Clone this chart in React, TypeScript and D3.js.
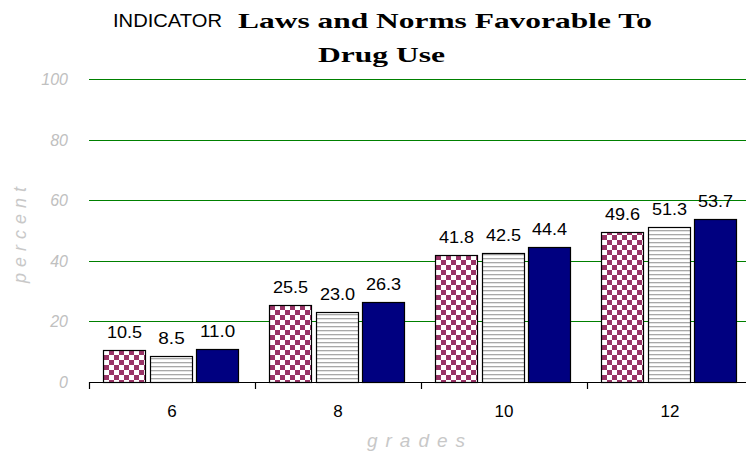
import React from "react";
import * as d3 from "d3";

const grades = ["6", "8", "10", "12"];
const seriesNames = ["s1", "s2", "s3"];
const series1 = [10.5, 25.5, 41.8, 49.6];
const series2 = [8.5, 23.0, 42.5, 51.3];
const series3 = [11.0, 26.3, 44.4, 53.7];
const yTicks = [0, 20, 40, 60, 80, 100];

const W = 746;
const H = 453;

export default function App() {
  const x0 = d3.scaleBand<string>().domain(grades).range([89, 89 + 166 * 4]);
  const x1 = d3.scaleBand<string>().domain(seriesNames).range([14, 149]).paddingInner(0.11);
  const y = d3.scaleLinear().domain([0, 100]).range([382, 79]);
  const allSeries = [series1, series2, series3];
  const fills = ["url(#checker)", "url(#stripes)", "#000080"];
  const sans = "'Liberation Sans', Arial, sans-serif";

  return (
    <svg width={W} height={H} style={{ position: "absolute", left: 0, top: 0, background: "#fff" }}>
      <defs>
        <pattern id="checker" width={10} height={10} patternUnits="userSpaceOnUse">
          <rect width={10} height={10} fill="#fff" />
          <rect x={0} y={0} width={5} height={5} fill="#993366" />
          <rect x={5} y={5} width={5} height={5} fill="#993366" />
        </pattern>
        <pattern id="stripes" width={8} height={4} patternUnits="userSpaceOnUse">
          <rect width={8} height={4} fill="#fff" />
          <rect x={0} y={2} width={8} height={1.3} fill="#a8a8a8" />
        </pattern>
      </defs>

      {/* Title */}
      <text x={113} y={27} fontFamily="'Liberation Sans Narrow', 'Liberation Sans', Arial, sans-serif" fontSize={19} textLength={109} lengthAdjust="spacingAndGlyphs" fill="#000">INDICATOR</text>
      <text x={238} y={28} fontFamily="'Liberation Serif', 'DejaVu Serif', serif" fontWeight="bold" fontSize={22} textLength={414} lengthAdjust="spacingAndGlyphs" fill="#000">Laws and Norms Favorable To</text>
      <text x={318} y={62} fontFamily="'Liberation Serif', 'DejaVu Serif', serif" fontWeight="bold" fontSize={22} textLength={127} lengthAdjust="spacingAndGlyphs" fill="#000">Drug Use</text>

      {/* Gridlines */}
      {yTicks.filter((t) => t > 0).map((t) => {
        const gy = Math.round(y(t)) + 0.5;
        return <line key={t} x1={89} x2={W} y1={gy} y2={gy} stroke="#008000" strokeWidth={1} />;
      })}

      {/* Y tick labels */}
      {yTicks.map((t) => (
        <text key={t} x={68} y={Math.round(y(t)) + 6} textAnchor="end" fontFamily={sans} fontStyle="italic" fontSize={16} fill="#c0c0c0">{t}</text>
      ))}

      {/* Y axis title */}
      <text transform={`translate(26,232) rotate(-90)`} textAnchor="middle" fontFamily={sans} fontStyle="italic" fontSize={18} letterSpacing={6} fill="#c8c8c8">percent</text>

      {/* Bars */}
      {grades.map((g, gi) => (
        <g key={g} transform={`translate(${x0(g)},0)`}>
          {seriesNames.map((s, si) => {
            const v = allSeries[si][gi];
            const bx = Math.round(x1(s)!) + 0.5;
            const bw = Math.round(x1.bandwidth());
            const top = Math.round(y(v)) + 0.5;
            const label = v.toFixed(1);
            return (
              <g key={s}>
                <rect x={bx} y={top} width={bw} height={Math.round(y(0)) + 0.5 - top} fill={fills[si]} stroke="#000" strokeWidth={1.2} />
                <text x={bx + bw / 2} y={top - 13} textAnchor="middle" fontFamily={sans} fontSize={17} textLength={label.length * 8.8} lengthAdjust="spacingAndGlyphs" fill="#000">{label}</text>
              </g>
            );
          })}
        </g>
      ))}

      {/* X axis */}
      <line x1={89} x2={W} y1={Math.round(y(0)) + 0.5} y2={Math.round(y(0)) + 0.5} stroke="#000" strokeWidth={1.2} />
      {grades.map((g) => (
        <line key={g} x1={Math.round(x0(g)!) + 0.5} x2={Math.round(x0(g)!) + 0.5} y1={y(0)} y2={y(0) + 7} stroke="#000" strokeWidth={1.2} />
      ))}
      {grades.map((g) => (
        <text key={g} x={x0(g)! + x0.bandwidth() / 2} y={417} textAnchor="middle" fontFamily={sans} fontSize={17} fill="#000">{g}</text>
      ))}

      {/* X axis title */}
      <text x={420} y={447} textAnchor="middle" fontFamily={sans} fontStyle="italic" fontSize={19} letterSpacing={8} fill="#c8c8c8">grades</text>
    </svg>
  );
}
